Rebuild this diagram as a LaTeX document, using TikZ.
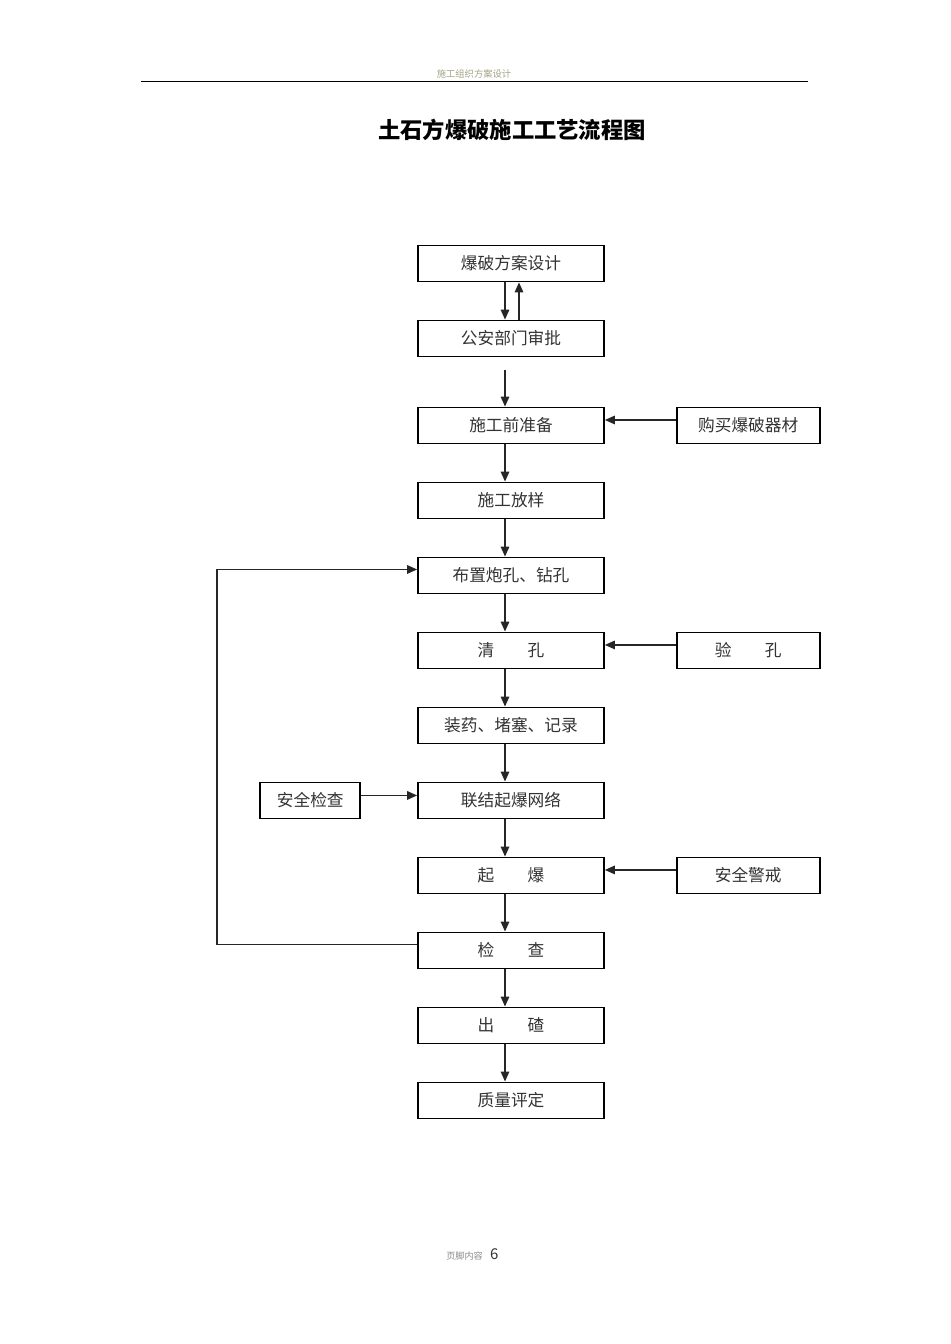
\documentclass[tikz,border=0pt]{standalone}
\usepackage{fontspec}
\setmainfont{Noto Sans CJK SC}
\usepackage{xcolor}
\usetikzlibrary{positioning,arrows.meta}
\definecolor{ctexto}{HTML}{333333}
\definecolor{cencab}{HTML}{A3A383}
\definecolor{cpie}{HTML}{8C8C8C}
\tikzset{
  caja/.style={rectangle, draw=black, line width=1pt, fill=white,
    minimum width=3.72cm, minimum height=0.72cm, inner sep=0pt,
    font=\fontsize{9.5}{11}\selectfont, text=ctexto},
  cajal/.style={caja, minimum width=2.86cm},
  cajap/.style={caja, minimum width=2cm},
  flecha/.style={-{Triangle[length=2mm,width=1.7mm]}, line width=0.85pt, draw=black!85},
  linea/.style={line width=0.85pt, draw=black!85},
}
\newcommand{\sep}{\hspace{2em}}
\begin{document}
\begin{tikzpicture}[x=0.02cm, y=-0.02cm, node distance=0.745cm]
  \useasboundingbox[fill=white] (0,0) rectangle (950,1344);
  % encabezado y pie
  \node[font=\fontsize{5.3}{6}\selectfont, text=cencab] (encab) at (474,74) {施工组织方案设计};
  \coordinate (ri) at (141,81.5);
  \coordinate (rd) at (808,81.5);
  \draw[line width=0.8pt] (ri) -- (rd);
  \node[font=\fontsize{5.2}{6}\selectfont, text=cpie, anchor=base east] (pie) at (489,1259) {页脚内容};
  \node[font=\fontsize{8.5}{9}\selectfont, text=black!80, anchor=base west, inner xsep=0.5pt] (pag) at (pie.base east) {6};
  % titulo
  \node[font=\fontsize{12.7}{14}\selectfont\bfseries] (titulo) at (512,130) {土石方爆破施工工艺流程图};
  % columna principal
  \node[caja] (p1) at (511,263.5) {爆破方案设计};
  \node[caja, below=of p1] (p2) {公安部门审批};
  \node[caja, below=0.985cm of p2] (p3) {施工前准备};
  \node[caja, below=of p3] (p4) {施工放样};
  \node[caja, below=of p4] (p5) {布置炮孔、钻孔};
  \node[caja, below=of p5] (p6) {清\sep 孔};
  \node[caja, below=of p6] (p7) {装药、堵塞、记录};
  \node[caja, below=of p7] (p8) {联结起爆网络};
  \node[caja, below=of p8] (p9) {起\sep 爆};
  \node[caja, below=of p9] (p10) {检\sep 查};
  \node[caja, below=of p10] (p11) {出\sep 碴};
  \node[caja, below=of p11] (p12) {质量评定};
  % cajas laterales
  \node[cajal, right=1.42cm of p3] (compra) {购买爆破器材};
  \node[cajal, right=1.42cm of p6] (verif) {验\sep 孔};
  \node[cajal, right=1.42cm of p9] (alerta) {安全警戒};
  \node[cajap, left=1.12cm of p8] (seguro) {安全检查};
  % flechas
  \draw[flecha] ([xshift=-0.12cm]p1.south) -- ([xshift=-0.12cm]p2.north);
  \draw[flecha] ([xshift=0.16cm]p2.north) -- ([xshift=0.16cm]p1.south);
  \draw[flecha] ([xshift=-0.12cm,yshift=-0.26cm]p2.south) -- ([xshift=-0.12cm]p3.north);
  \foreach \a/\b in {p3/p4,p4/p5,p5/p6,p6/p7,p7/p8,p8/p9,p9/p10,p10/p11,p11/p12}
    \draw[flecha] ([xshift=-0.12cm]\a.south) -- ([xshift=-0.12cm]\b.north);
  \draw[flecha] ([yshift=0.11cm]compra.west) -- ([yshift=0.11cm]p3.east);
  \draw[flecha] ([yshift=0.11cm]verif.west) -- ([yshift=0.11cm]p6.east);
  \draw[flecha] ([yshift=0.11cm]alerta.west) -- ([yshift=0.11cm]p9.east);
  \draw[flecha] ([yshift=0.1cm]seguro.east) -- ([yshift=0.1cm]p8.west);
  % retorno
  \coordinate (bucle) at (217,760);
  \draw[flecha] ([yshift=0.12cm]p10.west) -| (bucle) |- ([yshift=0.12cm]p5.west);
\end{tikzpicture}
\end{document}
